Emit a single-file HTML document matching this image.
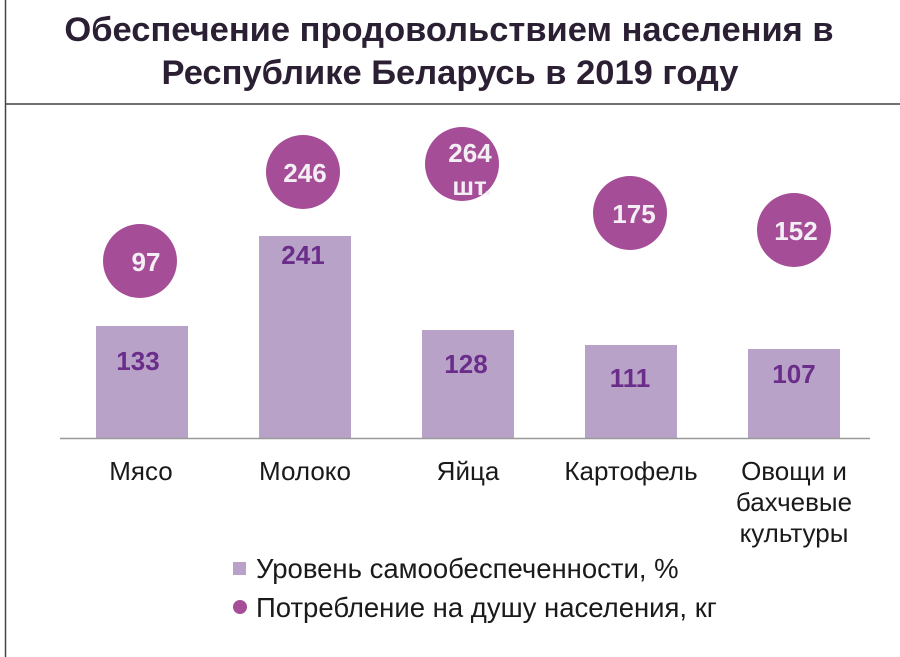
<!DOCTYPE html>
<html><head><meta charset="utf-8"><style>
html,body{margin:0;width:900px;height:657px;background:#fff;overflow:hidden;font-family:"Liberation Sans",sans-serif;}
svg{display:block}
</style></head><body>
<svg width="900" height="657" xmlns="http://www.w3.org/2000/svg" font-family="Liberation Sans, sans-serif">
<line x1="5.5" y1="0" x2="5.5" y2="657" stroke="#444" stroke-width="1.5"/>
<line x1="5" y1="104" x2="900" y2="104" stroke="#444" stroke-width="1.5"/>
<text x="449" y="41" text-anchor="middle" font-size="34.5" font-weight="bold" fill="#2b1f33">Обеспечение продовольствием населения в</text>
<text x="450" y="84" text-anchor="middle" font-size="34.5" font-weight="bold" fill="#2b1f33">Республике Беларусь в 2019 году</text>
<g fill="#b8a2c8">
<rect x="96" y="326" width="92" height="112"/>
<rect x="259" y="236" width="92" height="202"/>
<rect x="422" y="330" width="92" height="108"/>
<rect x="585" y="345" width="92" height="93"/>
<rect x="748" y="349" width="92" height="89"/>
</g>
<line x1="60" y1="438.5" x2="870" y2="438.5" stroke="#999" stroke-width="1.5"/>
<g font-size="26" font-weight="bold" fill="#6a2d8a" text-anchor="middle">
<text x="138" y="370">133</text>
<text x="303" y="264">241</text>
<text x="466" y="373">128</text>
<text x="630" y="387">111</text>
<text x="794" y="383">107</text>
</g>
<g fill="#a64d98">
<circle cx="140" cy="261" r="37"/>
<circle cx="303" cy="172" r="37"/>
<circle cx="462" cy="164" r="37"/>
<circle cx="630" cy="213" r="37"/>
<circle cx="794" cy="230" r="37"/>
</g>
<g font-size="26" font-weight="bold" fill="#f4eef5" text-anchor="middle">
<text x="146" y="271">97</text>
<text x="305" y="182">246</text>
<text x="470" y="162">264</text>
<text x="472" y="195">шт.</text>
<text x="634" y="223">175</text>
<text x="796" y="240">152</text>
</g>
<g font-size="26" fill="#1a1a1a" text-anchor="middle">
<text x="141" y="480">Мясо</text>
<text x="305" y="480">Молоко</text>
<text x="468" y="480">Яйца</text>
<text x="631" y="480">Картофель</text>
<text x="794" y="480">Овощи и</text>
<text x="794" y="511">бахчевые</text>
<text x="794" y="542">культуры</text>
</g>
<rect x="233" y="562" width="13" height="13" fill="#b8a2c8"/>
<text x="256" y="578" font-size="27.5" fill="#1a1a1a">Уровень самообеспеченности, %</text>
<circle cx="240" cy="607" r="7" fill="#a64d98"/>
<text x="256" y="617" font-size="27.5" fill="#1a1a1a">Потребление на душу населения, кг</text>
</svg>
</body></html>
